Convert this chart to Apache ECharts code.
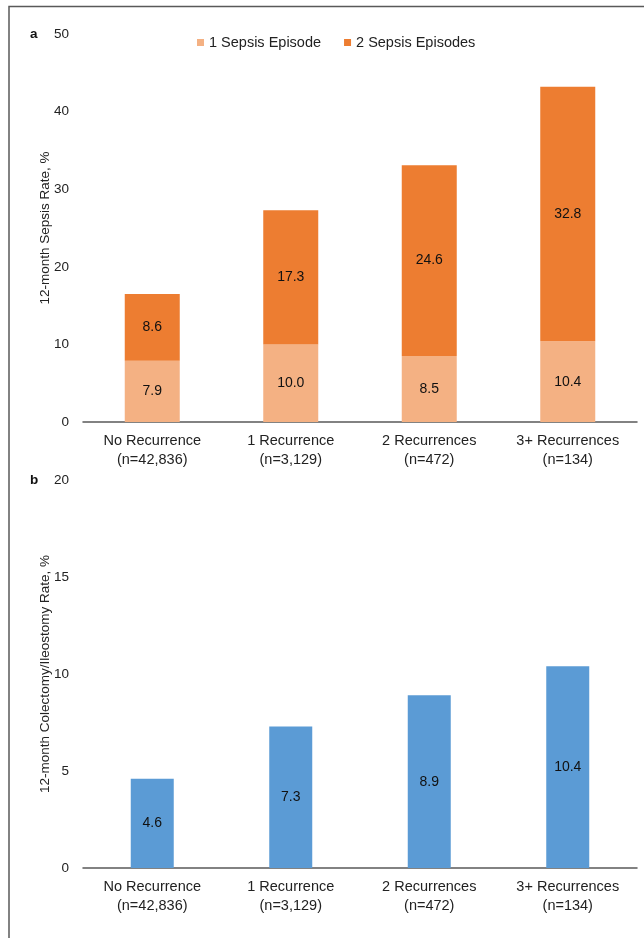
<!DOCTYPE html>
<html>
<head>
<meta charset="utf-8">
<script src="https://cdn.jsdelivr.net/npm/echarts@6/dist/echarts.min.js"></script>
<style>
  html, body { margin: 0; padding: 0; background: #fff; }
  #chart { width: 644px; height: 938px; }
</style>
</head>
<body>
<div id="chart"></div>
<script>
// categories and sample sizes
const categories = ['No Recurrence', '1 Recurrence', '2 Recurrences', '3+ Recurrences'];
const sampleSizes = ['n=42,836', 'n=3,129', 'n=472', 'n=134'];

// panel a: 12-month sepsis rate (%)
const sepsisOne = [7.9, 10.0, 8.5, 10.4];
const sepsisTwo = [8.6, 17.3, 24.6, 32.8];

// panel b: 12-month colectomy/ileostomy rate (%)
const colectomy = [4.6, 7.3, 8.9, 10.4];

const FONT = "'Liberation Sans', Arial, sans-serif";
const TEXT = '#222';
const axisLabels = categories.map((c, i) => c + '\n(' + sampleSizes[i] + ')');

const chart = echarts.init(document.getElementById('chart'));

const xAxisBase = {
  type: 'category',
  data: axisLabels,
  axisTick: { show: false },
  axisLine: { lineStyle: { color: '#595959', width: 1.5 } },
  axisLabel: {
    color: TEXT,
    fontFamily: FONT,
    fontSize: 14.5,
    lineHeight: 19,
    margin: 9,
    interval: 0
  }
};

const yAxisBase = {
  type: 'value',
  min: 0,
  splitLine: { show: false },
  axisLine: { show: false },
  axisTick: { show: false },
  axisLabel: { color: TEXT, fontFamily: FONT, fontSize: 13.5, margin: 14 },
  nameLocation: 'middle',
  nameGap: 31,
  nameMoveOverlap: false,
  nameTextStyle: { color: TEXT, fontFamily: FONT, fontSize: 13.5 }
};

const valueLabel = {
  show: true,
  position: 'inside',
  color: '#111',
  fontFamily: FONT,
  fontSize: 14,
  formatter: p => Number(p.value).toFixed(1)
};

const option = {
  animation: false,
  backgroundColor: '#fff',
  legend: {
    top: 30,
    left: 192,
    itemWidth: 7,
    itemHeight: 7,
    itemGap: 23,
    icon: 'rect',
    textStyle: { color: TEXT, fontFamily: FONT, fontSize: 14.5 },
    data: ['1 Sepsis Episode', '2 Sepsis Episodes']
  },
  grid: [
    { left: 83, right: 7, top: 34, height: 388 },
    { left: 83, right: 7, top: 480, height: 388 }
  ],
  xAxis: [
    Object.assign({ gridIndex: 0 }, xAxisBase),
    Object.assign({ gridIndex: 1 }, xAxisBase)
  ],
  yAxis: [
    Object.assign({}, yAxisBase, { gridIndex: 0, max: 50, interval: 10, name: '12-month Sepsis Rate, %' }),
    Object.assign({}, yAxisBase, { gridIndex: 1, max: 20, interval: 5, name: '12-month Colectomy/Ileostomy Rate, %' })
  ],
  graphic: [
    {
      type: 'polyline',
      shape: { points: [[9, 938], [9, 6.5], [644, 6.5]] },
      style: { stroke: '#595959', lineWidth: 1.5, fill: null }
    },
    {
      type: 'text', left: 30, top: 27,
      style: { text: 'a', font: 'bold 13.5px ' + FONT, fill: '#111' }
    },
    {
      type: 'text', left: 30, top: 473,
      style: { text: 'b', font: 'bold 13.5px ' + FONT, fill: '#111' }
    }
  ],
  series: [
    {
      name: '1 Sepsis Episode',
      type: 'bar',
      stack: 'sepsis',
      xAxisIndex: 0,
      yAxisIndex: 0,
      barWidth: 55,
      itemStyle: { color: '#F4B183' },
      label: valueLabel,
      data: sepsisOne
    },
    {
      name: '2 Sepsis Episodes',
      type: 'bar',
      stack: 'sepsis',
      xAxisIndex: 0,
      yAxisIndex: 0,
      barWidth: 55,
      itemStyle: { color: '#ED7D31' },
      label: valueLabel,
      data: sepsisTwo
    },
    {
      name: 'Colectomy/Ileostomy',
      type: 'bar',
      xAxisIndex: 1,
      yAxisIndex: 1,
      barWidth: 43,
      itemStyle: { color: '#5B9BD5' },
      label: valueLabel,
      data: colectomy
    }
  ]
};

chart.setOption(option);
</script>
</body>
</html>
